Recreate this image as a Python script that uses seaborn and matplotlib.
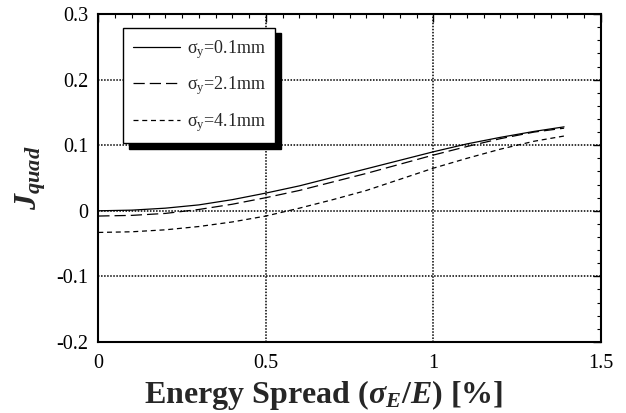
import numpy as np
import pandas as pd
import seaborn as sns
import matplotlib.pyplot as plt
from matplotlib.ticker import MultipleLocator

# energy spread [%] and J_quad
spread = [0.0, 0.1, 0.2, 0.3, 0.4, 0.5, 0.6, 0.7, 0.8, 0.9, 1.0, 1.1, 1.2, 1.3, 1.39]
j_01 = [0.000, 0.001, 0.004, 0.009, 0.017, 0.027, 0.038, 0.051, 0.064, 0.077,
        0.090, 0.102, 0.112, 0.121, 0.128]
j_21 = [-0.008, -0.007, -0.004, 0.002, 0.010, 0.020, 0.031, 0.044, 0.057, 0.071,
        0.085, 0.098, 0.110, 0.120, 0.126]
j_41 = [-0.033, -0.032, -0.029, -0.024, -0.017, -0.008, 0.004, 0.017, 0.031, 0.048,
        0.065, 0.080, 0.094, 0.106, 0.114]
labels = ['σ$_\\mathrm{y}$=0.1mm', 'σ$_\\mathrm{y}$=2.1mm', 'σ$_\\mathrm{y}$=4.1mm']
xticks = [0, 0.5, 1, 1.5]
xticklabels = ['0', '0.5', '1', '1.5']
yticks = [-0.2, -0.1, 0, 0.1, 0.2, 0.3]
yticklabels = ['-0.2', '-0.1', '0', '0.1', '0.2', '0.3']

df = pd.DataFrame({'spread': spread * 3,
                   'J': j_01 + j_21 + j_41,
                   'beam': [labels[0]] * len(spread) + [labels[1]] * len(spread)
                           + [labels[2]] * len(spread)})

sns.set_style('white')
plt.rcParams['font.family'] = ['Liberation Serif', 'DejaVu Serif']
plt.rcParams['mathtext.fontset'] = 'custom'
plt.rcParams['mathtext.rm'] = 'Liberation Serif'
plt.rcParams['mathtext.it'] = 'Liberation Serif:italic'
plt.rcParams['mathtext.bf'] = 'Liberation Serif:bold:italic'

fig, ax = plt.subplots(figsize=(6.26, 4.13), dpi=100)
fig.subplots_adjust(left=0.157, right=0.96, top=0.966, bottom=0.172)

sns.lineplot(data=df, x='spread', y='J', style='beam', color='black',
             dashes={labels[0]: '', labels[1]: (9, 4), labels[2]: (4, 3)},
             linewidth=0.9, ax=ax)

ax.set_xlim(0, 1.5)
ax.set_ylim(-0.2, 0.3)
ax.set_xticks(xticks)
ax.set_xticklabels(xticklabels)
ax.set_yticks(yticks)
ax.set_yticklabels(yticklabels)
ax.xaxis.set_minor_locator(MultipleLocator(0.05))
ax.yaxis.set_minor_locator(MultipleLocator(0.02))
ax.tick_params(which='both', direction='in', top=True, right=True, colors='black',
               labelsize=14.5)
ax.tick_params(which='major', length=6, width=1)
ax.tick_params(which='minor', length=3, width=0.8)
ax.tick_params(axis='x', pad=9)
ax.tick_params(axis='y', pad=7)
ax.grid(True, which='major', color='black', linestyle=(0, (1, 1)), linewidth=1.1)
for s in ax.spines.values():
    s.set_color('black')
    s.set_linewidth(1.5)

ax.set_xlabel('Energy Spread ($\\mathbf{\\sigma}_{\\mathbf{E}}$/$\\mathbf{E}$) [%]',
              fontsize=23, fontweight='bold', labelpad=3)
ax.xaxis.label.set_x(0.449)
ax.set_ylabel('$\\mathbf{J}_{\\mathbf{quad}}$', fontsize=23, labelpad=6)

leg = ax.legend(loc='upper left', bbox_to_anchor=(0.05, 0.958), fontsize=13,
                handlelength=2.6, labelspacing=0.75, borderpad=0.55, fancybox=False,
                shadow={'color': 'black', 'alpha': 1, 'ox': 4, 'oy': -4},
                framealpha=1, edgecolor='black', handletextpad=0.35,
                borderaxespad=0)
leg.get_frame().set_linewidth(1.0)

fig.savefig('out.png', dpi=100)
